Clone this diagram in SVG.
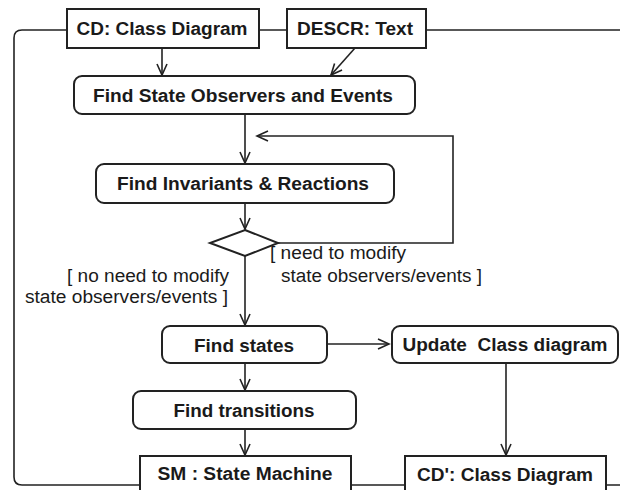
<svg xmlns="http://www.w3.org/2000/svg" width="620" height="490" viewBox="0 0 620 490">
<style>
.obj{fill:#fff;stroke:#222;stroke-width:2}
.act{fill:#fff;stroke:#222;stroke-width:2}
.b{font-family:"Liberation Sans",Arial,sans-serif;font-weight:bold;font-size:18px;fill:#1a1a1a;text-anchor:middle}
.l{font-family:"Liberation Sans",Arial,sans-serif;font-size:18px;fill:#1a1a1a}
.c{fill:none;stroke:#222;stroke-width:1.6}
</style>
<defs>
<marker id="ah" markerWidth="14" markerHeight="14" refX="12" refY="6" orient="auto" markerUnits="userSpaceOnUse">
<path d="M1,1 L12,6 L1,11" fill="none" stroke="#222" stroke-width="1.6"/>
</marker>
</defs>
<g id="frame">
<path class="c" d="M620 30 H22 Q14 30 14 38 V477 Q14 485 22 485 H620" stroke-width="1.8"/>
</g>
<g id="connectors">
<line class="c" x1="162" y1="48" x2="162" y2="75" marker-end="url(#ah)"/>
<line class="c" x1="355" y1="48" x2="331" y2="75" marker-end="url(#ah)"/>
<line class="c" x1="245" y1="114" x2="245" y2="163" marker-end="url(#ah)"/>
<line class="c" x1="245" y1="203" x2="245" y2="229" marker-end="url(#ah)"/>
<polyline class="c" points="278,243 453,243 453,136 257,136" marker-end="url(#ah)"/>
<line class="c" x1="245" y1="256" x2="245" y2="325" marker-end="url(#ah)"/>
<line class="c" x1="327" y1="344" x2="389" y2="344" marker-end="url(#ah)"/>
<line class="c" x1="245" y1="363" x2="245" y2="390" marker-end="url(#ah)"/>
<line class="c" x1="245" y1="429" x2="245" y2="455" marker-end="url(#ah)"/>
<line class="c" x1="506" y1="363" x2="506" y2="455" marker-end="url(#ah)"/>
<text class="l" x="270" y="259" textLength="136" lengthAdjust="spacingAndGlyphs">[ need to modify</text>
<text class="l" x="281" y="282" textLength="201" lengthAdjust="spacingAndGlyphs">state observers/events ]</text>
<text class="l" x="67" y="282" textLength="162" lengthAdjust="spacingAndGlyphs">[ no need to modify</text>
<text class="l" x="25" y="303" textLength="203" lengthAdjust="spacingAndGlyphs">state observers/events ]</text>
</g>
<g id="cd">
<rect class="obj" x="67" y="9" width="192" height="39"/>
<text class="b" x="162" y="35" textLength="171" lengthAdjust="spacingAndGlyphs">CD: Class Diagram</text>
</g>
<g id="descr">
<rect class="obj" x="287" y="9" width="139" height="39"/>
<text class="b" x="355" y="35" textLength="116" lengthAdjust="spacingAndGlyphs">DESCR: Text</text>
</g>
<g id="findObservers">
<rect class="act" x="74" y="76" width="341" height="38" rx="8"/>
<text class="b" x="243" y="102" textLength="300" lengthAdjust="spacingAndGlyphs">Find State Observers and Events</text>
</g>
<g id="findInvariants">
<rect class="act" x="96" y="164" width="298" height="39" rx="8"/>
<text class="b" x="243" y="190" textLength="252" lengthAdjust="spacingAndGlyphs">Find Invariants &amp; Reactions</text>
</g>
<g id="decision">
<polygon class="act" points="245,230 278,243 245,256 210,243"/>
</g>
<g id="findStates">
<rect class="act" x="162" y="326" width="165" height="37" rx="8"/>
<text class="b" x="244" y="352" textLength="100" lengthAdjust="spacingAndGlyphs">Find states</text>
</g>
<g id="updateCD">
<rect class="act" x="392" y="326" width="226" height="37" rx="8"/>
<text class="b" x="505" y="351" textLength="205" lengthAdjust="spacingAndGlyphs" xml:space="preserve">Update  Class diagram</text>
</g>
<g id="findTransitions">
<rect class="act" x="133" y="391" width="223" height="38" rx="8"/>
<text class="b" x="244" y="417" textLength="141" lengthAdjust="spacingAndGlyphs">Find transitions</text>
</g>
<g id="sm">
<rect class="obj" x="140" y="456" width="211" height="45"/>
<text class="b" x="245" y="480" textLength="175" lengthAdjust="spacingAndGlyphs">SM : State Machine</text>
</g>
<g id="cdPrime">
<rect class="obj" x="405" y="456" width="201" height="45"/>
<text class="b" x="505" y="481" textLength="176" lengthAdjust="spacingAndGlyphs">CD': Class Diagram</text>
</g>
</svg>
